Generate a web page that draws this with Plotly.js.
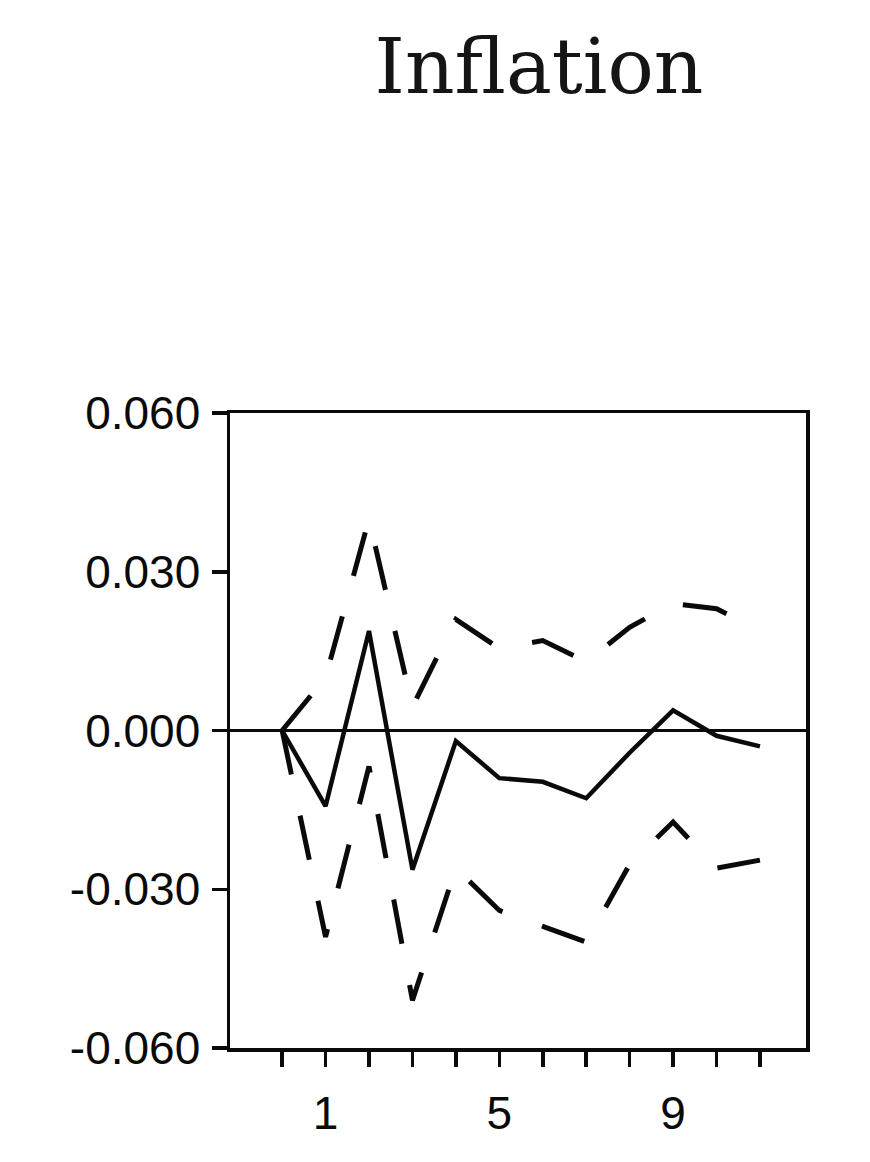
<!DOCTYPE html>
<html>
<head>
<meta charset="utf-8">
<script src="https://cdn.plot.ly/plotly-3.0.1.min.js"></script>
<style>
  html, body { margin: 0; padding: 0; background: #ffffff; }
  #chart { width: 870px; height: 1162px; }
</style>
</head>
<body>
<div id="chart"></div>
<script>
// Horizon (periods after the shock)
const horizon = [0, 1, 2, 3, 4, 5, 6, 7, 8, 9, 10, 11];
// Impulse response of inflation (solid line)
const response = [0, -0.0143, 0.0188, -0.0263, -0.0020, -0.0090, -0.0097, -0.0128, -0.0042, 0.0038, -0.0010, -0.0030];
// Upper confidence band (dashed)
const upperBand = [0, 0.0100, 0.0400, 0.0045, 0.0210, 0.0155, 0.0170, 0.0130, 0.0195, 0.0240, 0.0230, 0.0190];
// Lower confidence band (dashed)
const lowerBand = [0, -0.0390, -0.0068, -0.0510, -0.0260, -0.0340, -0.0370, -0.0400, -0.0253, -0.0173, -0.0260, -0.0245];

// Tick labels
const xTickVals = [0, 1, 2, 3, 4, 5, 6, 7, 8, 9, 10, 11];
const xTickText = ['', '1', '', '', '', '5', '', '', '', '9', '', ''];
const yTickVals = [-0.06, -0.03, 0, 0.03, 0.06];
const yTickText = ['-0.060', '-0.030', '0.000', '0.030', '0.060'];
const chartTitle = 'Inflation';

const traces = [
  {
    x: horizon, y: upperBand, type: 'scatter', mode: 'lines',
    line: { color: '#0a0a0a', width: 5, dash: '45px,42px' },
    hoverinfo: 'skip', showlegend: false
  },
  {
    x: horizon, y: lowerBand, type: 'scatter', mode: 'lines',
    line: { color: '#0a0a0a', width: 5, dash: '45px,42px' },
    hoverinfo: 'skip', showlegend: false
  },
  {
    x: horizon, y: response, type: 'scatter', mode: 'lines',
    line: { color: '#0a0a0a', width: 4.5 },
    hoverinfo: 'skip', showlegend: false
  }
];

const layout = {
  width: 870,
  height: 1162,
  margin: { l: 230, r: 64, t: 413, b: 114, pad: 0 },
  paper_bgcolor: '#ffffff',
  plot_bgcolor: '#ffffff',
  showlegend: false,
  title: {
    text: chartTitle,
    font: { family: 'DejaVu Serif', size: 77, color: '#151515' },
    x: 539 / 870, xref: 'container', xanchor: 'center',
    y: 1 - 66 / 1162, yref: 'container', yanchor: 'middle'
  },
  xaxis: {
    range: [-1.2, 12.06],
    tickmode: 'array', tickvals: xTickVals, ticktext: xTickText,
    ticks: 'outside', ticklen: 15, tickwidth: 3.5, tickcolor: '#0a0a0a',
    showline: true, linecolor: '#0a0a0a', linewidth: 3.5, mirror: true,
    showgrid: false, zeroline: false,
    tickfont: { family: 'Liberation Sans, Arial, sans-serif', size: 46, color: '#0a0a0a' },
    ticklabelstandoff: 7
  },
  yaxis: {
    range: [-0.06, 0.06],
    tickmode: 'array', tickvals: yTickVals, ticktext: yTickText,
    ticks: 'outside', ticklen: 15, tickwidth: 3.5, tickcolor: '#0a0a0a',
    showline: true, linecolor: '#0a0a0a', linewidth: 3.5, mirror: true,
    showgrid: false,
    zeroline: true, zerolinecolor: '#0a0a0a', zerolinewidth: 3,
    tickfont: { family: 'Liberation Sans, Arial, sans-serif', size: 46, color: '#0a0a0a' },
    ticklabelstandoff: 2
  }
};

Plotly.newPlot('chart', traces, layout, { staticPlot: true, displayModeBar: false });
</script>
</body>
</html>
